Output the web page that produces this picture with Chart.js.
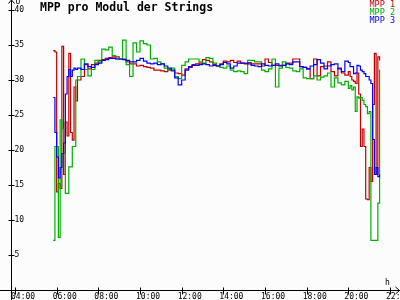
<!DOCTYPE html>
<html>
<head>
<meta charset="utf-8">
<script src="https://cdn.jsdelivr.net/npm/chart.js@4/dist/chart.umd.min.js"></script>
<style>
html,body{margin:0;padding:0;background:#fcfcfc;}
canvas{display:block;}
</style>
</head>
<body>
<canvas id="c" width="400" height="300"></canvas>
<script>
const times = [
'05:50','05:55','06:00','06:05','06:10','06:15','06:20','06:25','06:30','06:35','06:40','06:45','06:50','06:55','07:00',
'07:10','07:20','07:30','07:40','07:50','08:00','08:10','08:20','08:30','08:40','08:50',
'09:00','09:10','09:20','09:30','09:40','09:50','10:00','10:10','10:20','10:30','10:40','10:50',
'11:00','11:10','11:20','11:30','11:40','11:50','12:00','12:10','12:20','12:30','12:40','12:50',
'13:00','13:10','13:20','13:30','13:40','13:50','14:00','14:10','14:20','14:30','14:40','14:50',
'15:00','15:10','15:20','15:30','15:40','15:50','16:00','16:10','16:20','16:30','16:40','16:50',
'17:00','17:10','17:20','17:30','17:40','17:50','18:00','18:10','18:20','18:30','18:40','18:50',
'19:00','19:10','19:20','19:30','19:40','19:50','20:00',
'20:05','20:10','20:15','20:20','20:25','20:30','20:35','20:40','20:45','20:50','20:55','21:00',
'21:05','21:10','21:15','21:20','21:25','21:30'
];
const mpp1 = [
34.2,34.0,14.0,15.2,14.5,34.8,16.5,24.0,22.0,33.8,22.5,21.4,29.0,27.0,30.0,
30.5,32.2,31.6,32.2,32.4,32.8,32.9,33.1,33.2,33.3,33.3,
33.0,33.0,32.6,32.3,32.3,32.0,32.1,31.9,31.8,31.7,31.4,31.4,
31.3,31.2,31.5,31.3,31.0,30.9,30.7,31.6,31.8,32.2,32.3,32.4,
32.9,32.8,32.6,32.2,32.0,32.3,32.7,32.6,32.8,32.5,32.7,32.4,
32.3,32.5,32.3,32.3,32.3,32.0,33.0,32.5,32.1,32.1,32.1,32.1,
32.4,32.4,33.0,33.0,31.9,31.8,31.6,30.2,33.0,30.6,31.9,32.0,
32.6,31.2,30.6,31.7,31.0,30.7,31.2,
30.5,30.0,29.8,29.5,31.0,28.0,20.5,23.0,20.5,13.0,12.9,17.5,
15.5,26.5,33.8,16.5,33.3,32.8
];
const mpp2 = [
7.1,20.5,20.5,7.5,24.3,23.0,19.6,13.8,13.8,17.6,17.6,20.5,20.5,30.0,30.5,
33.0,31.5,30.6,31.5,32.8,32.6,34.4,34.3,34.7,33.5,33.0,
33.0,35.7,32.2,30.5,35.3,34.0,35.6,35.2,35.0,33.0,33.1,32.6,
32.3,31.7,31.4,31.7,30.5,30.2,32.1,32.6,33.0,33.0,33.0,32.6,
32.4,33.2,33.1,32.4,32.0,31.8,31.7,32.0,31.4,31.2,31.3,31.2,
30.9,32.8,32.8,32.6,32.6,31.4,31.2,31.6,33.0,29.0,31.7,32.6,
31.8,31.7,31.3,31.2,31.6,30.3,30.2,30.2,30.6,30.0,30.4,30.6,
31.0,29.0,30.3,29.6,29.3,29.8,28.8,
29.2,28.6,29.0,25.5,27.6,27.4,27.5,27.1,26.5,26.2,25.2,25.5,
7.1,7.1,7.1,7.1,12.4,31.5
];
const mpp3 = [
27.5,22.5,19.0,16.0,17.5,19.5,21.0,28.0,30.5,31.5,30.5,31.4,31.7,31.5,31.7,
31.5,32.3,31.9,31.8,32.2,32.4,32.8,32.9,33.1,33.1,33.0,
33.0,32.9,32.8,32.6,32.6,32.8,33.1,32.7,32.4,32.3,32.4,32.2,
32.3,32.0,31.7,31.4,30.3,29.3,30.0,31.4,31.9,32.1,32.1,32.2,
32.3,32.2,32.0,32.1,32.0,32.2,32.5,32.3,31.7,32.0,32.4,32.4,
32.4,32.3,32.1,32.0,31.9,32.3,32.1,32.0,32.1,32.3,32.0,32.1,
32.3,32.2,32.6,32.6,31.9,31.8,31.6,32.0,32.2,32.9,32.4,31.6,
32.0,32.2,32.3,31.6,31.2,32.7,32.5,
31.9,31.9,30.9,31.0,32.1,32.0,31.4,31.2,30.9,30.5,30.5,30.0,
29.5,21.5,16.5,17.5,16.2,16.5
];
const seriesNames = ['MPP 1','MPP 2','MPP 3'];
const seriesColors = ['#c00000','#00b000','#0000ff'];
const yTicks = [5,10,15,20,25,30,35,40];
const xTickLabels = ['04:00','06:00','08:00','10:00','12:00','14:00','16:00','18:00','20:00','22:00'];
const titleText = 'MPP pro Modul der Strings';
const yUnit = 'U';
const xUnit = 'h';

const toH = t => { const p = t.split(':').map(Number); return p[0] + p[1] / 60; };
const seriesValues = [mpp1, mpp2, mpp3];

const datasets = seriesValues.map((vals, k) => ({
  label: seriesNames[k],
  data: times.map((t, i) => ({ x: toH(t), y: vals[i] })),
  borderColor: seriesColors[k],
  backgroundColor: seriesColors[k],
  borderWidth: 1.2,
  pointRadius: 0,
  stepped: true,
  fill: false,
  clip: false,
  order: 3 - k
}));

const MONO = '"DejaVu Sans Mono", "Liberation Mono", monospace';

const decor = {
  id: 'decor',
  beforeDraw(chart) {
    const ctx = chart.ctx;
    ctx.save();
    ctx.fillStyle = '#fcfcfc';
    ctx.fillRect(0, 0, chart.width, chart.height);
    ctx.restore();
  },
  afterDraw(chart) {
    const ctx = chart.ctx;
    const xs = chart.scales.x, ys = chart.scales.y;
    const ax = Math.round(xs.getPixelForValue(xs.min)) + 0.5;
    const ay = Math.round(ys.getPixelForValue(0)) + 0.5;
    ctx.save();
    ctx.strokeStyle = '#000';
    ctx.fillStyle = '#000';
    ctx.lineWidth = 1;
    ctx.beginPath();
    // y axis
    ctx.moveTo(ax, 0); ctx.lineTo(ax, chart.height);
    ctx.moveTo(ax, 0); ctx.lineTo(ax - 3, 3.5);
    ctx.moveTo(ax, 0); ctx.lineTo(ax + 3, 3.5);
    // x axis
    ctx.moveTo(0, ay); ctx.lineTo(chart.width, ay);
    ctx.moveTo(chart.width - 0.5, ay); ctx.lineTo(chart.width - 4.5, ay - 3.5);
    ctx.moveTo(chart.width - 0.5, ay); ctx.lineTo(chart.width - 4.5, ay + 3.5);
    // y ticks
    yTicks.forEach(v => {
      const y = Math.round(ys.getPixelForValue(v)) + 0.5;
      ctx.moveTo(ax - 3, y); ctx.lineTo(ax + 3, y);
    });
    // x ticks
    xTickLabels.forEach(l => {
      const x = Math.round(xs.getPixelForValue(toH(l))) + 0.5;
      ctx.moveTo(x, ay - 3); ctx.lineTo(x, ay + 4);
    });
    ctx.stroke();

    ctx.font = '8px ' + MONO;
    ctx.textAlign = 'left';
    ctx.textBaseline = 'middle';
    yTicks.forEach(v => {
      const y = ys.getPixelForValue(v);
      ctx.fillText(String(v), ax + 3, y);
    });
    ctx.textBaseline = 'top';
    xTickLabels.forEach(l => {
      const x = xs.getPixelForValue(toH(l));
      ctx.fillText(l, x - 4, ay + 2);
    });
    ctx.textBaseline = 'alphabetic';
    ctx.fillText(yUnit, ax + 4, 4);
    ctx.fillText(xUnit, 385, 285);

    // title
    ctx.font = 'bold 11.5px ' + MONO;
    ctx.textBaseline = 'top';
    ctx.fillText(titleText, 40, 2);

    // legend
    ctx.font = '8.5px ' + MONO;
    ctx.textAlign = 'right';
    ctx.textBaseline = 'middle';
    seriesNames.forEach((n, k) => {
      ctx.fillStyle = seriesColors[k];
      ctx.fillText(n, 395, 4.5 + 8 * k);
    });
    ctx.restore();
  }
};

new Chart(document.getElementById('c'), {
  type: 'line',
  data: { datasets },
  options: {
    responsive: false,
    animation: false,
    devicePixelRatio: 1,
    layout: { padding: { left: 11, right: 10, top: 10, bottom: 10 } },
    plugins: { legend: { display: false }, title: { display: false }, tooltip: { enabled: false } },
    scales: {
      x: { type: 'linear', min: 3.808, max: 22, display: false },
      y: { type: 'linear', min: 0, max: 40, display: false }
    }
  },
  plugins: [decor]
});
</script>
</body>
</html>
